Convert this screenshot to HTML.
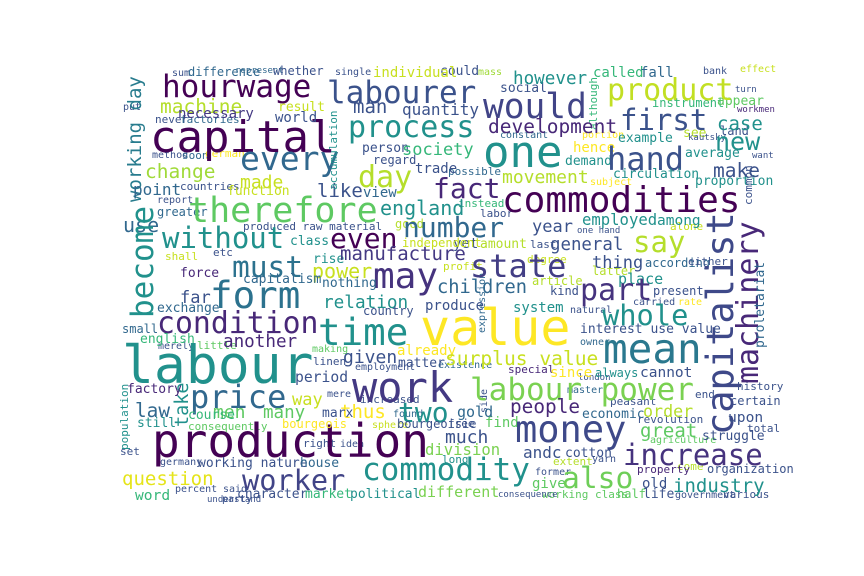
<!DOCTYPE html>
<html><head><meta charset="utf-8"><style>
html,body{margin:0;padding:0;background:#fff;}
svg{display:block;}
text{font-family:"DejaVu Sans Mono","Liberation Mono",monospace;}
</style></head><body>
<svg id="chart" width="864" height="576" viewBox="0 0 864 576" xmlns="http://www.w3.org/2000/svg">
<rect x="0" y="0" width="864" height="576" fill="#ffffff"/>
<g id="words"></g>
</svg>
<script>
const words = ["capital","hourwage","labourer","working day","machine","every","change","made","point","therefore","without","even","must","process","day","england","become","manufacture","power","may","individual","man","quantity","necessary","world","result","society","trade","fact","like","view","accumulation","difference",
"would","product","first","case","development","however","one","hand","new","make","movement","circulation","commodities","number","year","employed","among","general","say","state","thing","capitalist","machinery","proletariat",
"form","condition","time","labour","work","another","given","period","price","take","law","men","many","way","thus","two","production","worker","question","word","commodity","character","market","political","working nature","house","population","factory","relation","exchange","far","small","english","country","nothing","capitalism","still","course","bourgeois","marx","bourgeoisie",
"value","children","part","whole","system","produce","mean","surplus value","interest use value","since","always","cannot","labour power","people","gold","order","economic","upon","money","much","great","struggle","division","andc","cotton","increase","also","industry","different"];
const sizes = [44,31,31,19,19.5,33,19.5,18,16,35,29,28,29.5,30,30,20,31,19,20,36,14,19,16,14,14,13,17,14,28,19,14,11,12,
34.5,30,29,19,19.5,17.6,44,32,25,19.5,18,13,36,28,17,15.6,14.5,17.4,29,32,17,37,30,13,
37.5,29.8,37.5,53,42,17.6,18,14.7,32,18.5,19.4,18,17.5,17,19,28,46,28.6,19,14.6,31,13,13,13,13,13,11,13,17.7,13,17,12,13,12,13,13,13,13,12,13,12,
50,18.7,30,28.7,14,14,41,19.6,13,14,12,14.5,31,19.4,15,16.7,13,14.6,37,18,19,13,15.6,16,13,29,29.6,19,15];
const colors = ["#440154","#440154","#3b528b","#287c8e","#b5de2b","#31688e","#a0da39","#c8e020","#31688e","#5ec962","#21918c","#440154","#2c728e","#21918c","#b5de2b","#21918c","#21918c","#443983","#c8e020","#46337e","#c8e020","#3b528b","#3b528b","#443983","#3b528b","#c8e020","#35b779","#3b528b","#482878","#3b528b","#31688e","#21918c","#31688e",
"#414487","#c2df23","#3b528b","#21918c","#482878","#21918c","#21918c","#3b528b","#21918c","#3b528b","#b5de2b","#21918c","#440154","#31688e","#3b528b","#21918c","#21918c","#3b528b","#b5de2b","#433e85","#3b528b","#3e4989","#482878","#31688e",
"#2c728e","#482878","#21918c","#21918c","#443983","#482878","#3b528b","#3b528b","#31688e","#21918c","#31688e","#5ec962","#5ec962","#c8e020","#fde725","#21918c","#440154","#414487","#e5e419","#35b779","#21918c","#3b528b","#35b779","#21918c","#3b528b","#31688e","#21918c","#482878","#21918c","#31688e","#3b528b","#31688e","#35b779","#3b528b","#31688e","#31688e","#21918c","#35b779","#fde725","#3b528b","#3b528b",
"#fde725","#31688e","#46337e","#21918c","#21918c","#3b528b","#2a788e","#c8e020","#3b528b","#fde725","#21918c","#3b528b","#7ad151","#482878","#31688e","#b5de2b","#31688e","#3b528b","#3e4989","#3b528b","#5ec962","#3b528b","#7ad151","#3b528b","#3b528b","#46337e","#6ece58","#21918c","#7ad151"];
const layoutX = [150,162,327,141,160,240,145,240,133,188,162,330,232,348,358,380,153,340,312,373,373,353,402,178,275,278,402,415,433,317,363,337,188,
483,607,620,717,488,513,483,607,715,713,502,613,502,403,532,582,657,550,633,470,592,733,758,764,
210,157,318,122,352,223,343,295,190,188,135,213,263,292,340,398,152,242,122,135,362,237,305,350,198,300,128,127,323,157,180,122,140,363,322,243,137,188,282,322,397,
420,437,580,602,513,425,603,445,580,550,595,640,470,510,457,643,582,728,515,445,640,702,425,523,565,623,562,673,418];
const layoutY = [152,97,103,202,113,170,178,188,195,222,248,248,277,137,187,215,318,260,278,288,77,113,115,118,122,111,155,173,198,197,197,190,76,
118,100,130,130,133,84,167,170,150,177,183,178,212,237,232,225,225,250,252,277,268,435,384,348,
308,333,345,383,402,347,363,382,408,427,417,418,418,405,418,422,457,490,485,500,480,498,498,498,467,467,450,393,308,312,303,333,343,315,287,283,427,419,428,417,428,
345,293,300,325,312,310,363,365,333,377,377,377,400,413,417,417,418,422,442,443,437,440,455,458,457,465,488,492,497];

const fillerWords = ["could","mass","called","fall","bank","effect","social","instrument","appear","turn",
"workmen","constant","portion","example","see","land","kautsky","hence","average","want",
"demand","possible","subject","proportion","instead","labor","alone","one hand","yet","amount",
"last","degree","profit","according","either","latter","place","article","kind","present",
"rate","carried","natural","owner","existence","special","london","master","peasant","end",
"history","certain","revolution","total","agriculture","find","free","long","extent","come",
"yarn","organization","property","former","old","life","half","give","working class","government",
"various","consequence","sum","represent","whether","single","put","never","factories","method",
"soon","german","person","regard","countries","function","report","greater","produced raw material","class",
"good","independent","rise","shall","etc","use","force","little","merely","making",
"linen","already","matter","employment","mere","increased","consequently","sphere","found","set",
"germany","right","idea","percent","said","party","understand","although","common","expression",
"side"];
const fillerSizes = [13,10,14,14,10,10,13,12,13,9,
9,10,10,13,13,12,9,14,13,9,
13,11,10,13,11,11,11,9,14,13,
11,11,11,12,11,12,15,12,12,12,
10,10,10,10,10,11,9,10,11,11,
11,12,11,11,10,14,11,11,11,11,
10,12,11,10,14,13,12,14,11,10,
11,9,10,9,12,10,10,11,11,10,
11,11,13,12,11,13,10,12,11,13,
12,12,13,11,11,20,13,11,10,10,
11,14,13,10,10,11,11,10,10,11,
10,11,10,10,10,10,9,11,11,10,
10];
const fillerColors = ["#3b528b","#a0da39","#35b779","#31688e","#3b528b","#c8e020","#3b528b","#35b779","#5ec962","#3b528b",
"#482878","#31688e","#fde725","#21918c","#b5de2b","#3b528b","#3b528b","#fde725","#21918c","#3b528b",
"#21918c","#31688e","#fde725","#21918c","#35b779","#3b528b","#c8e020","#3b528b","#3b528b","#b5de2b",
"#3b528b","#c8e020","#c8e020","#31688e","#3b528b","#b5de2b","#21918c","#b5de2b","#3b528b","#3b528b",
"#fde725","#3b528b","#3b528b","#31688e","#31688e","#482878","#3b528b","#31688e","#3b528b","#3b528b",
"#3b528b","#3b528b","#3b528b","#3b528b","#5ec962","#5ec962","#3b528b","#21918c","#b5de2b","#b5de2b",
"#3b528b","#3b528b","#482878","#3b528b","#3b528b","#3b528b","#5ec962","#5ec962","#5ec962","#3b528b",
"#3b528b","#3b528b","#3b528b","#31688e","#3b528b","#3b528b","#3b528b","#3b528b","#31688e","#3b528b",
"#31688e","#fde725","#3b528b","#3b528b","#3b528b","#c8e020","#3b528b","#31688e","#3b528b","#21918c",
"#b5de2b","#c8e020","#21918c","#c8e020","#3b528b","#31688e","#482878","#5ec962","#3b528b","#5ec962",
"#3b528b","#fde725","#3b528b","#3b528b","#3b528b","#3b528b","#5ec962","#c8e020","#31688e","#3b528b",
"#3b528b","#3b528b","#3b528b","#3b528b","#3b528b","#3b528b","#3b528b","#35b779","#3b528b","#31688e",
"#3b528b"];
const fillerX = [440,478,593,640,703,740,500,652,717,735,
737,500,582,618,683,720,688,573,685,752,
565,448,590,695,458,480,670,577,453,480,
530,527,443,645,688,592,618,532,550,653,
678,633,570,580,438,508,578,567,610,695,
737,730,637,747,650,485,448,442,553,677,
592,707,637,535,642,643,617,532,542,675,
723,498,172,235,273,335,123,155,180,152,
182,205,362,373,180,227,157,157,243,290,
395,402,313,165,213,123,180,197,158,312,
313,397,398,355,327,360,188,372,393,120,
160,303,340,175,223,222,207,597,752,485,
487];
const fillerY = [75,75,77,77,74,72,92,107,105,92,
112,138,138,142,137,135,140,152,157,158,
165,175,185,185,207,217,230,233,248,248,
248,263,270,267,265,275,284,285,295,295,
305,305,313,345,368,373,380,393,405,398,
390,405,423,432,443,427,427,463,465,470,
462,473,473,475,488,498,498,488,498,498,
498,497,76,73,75,75,110,123,123,158,
159,157,152,164,190,195,203,216,230,245,
228,247,263,260,256,232,277,349,349,352,
365,355,367,370,397,403,430,428,417,455,
465,447,447,492,492,502,502,130,205,333,
413];

const rotated = new Set(["working day","become","take","accumulation","capitalist","machinery","proletariat","population","although","common","expression","side"]);
const g = document.getElementById('words');
const NS = "http://www.w3.org/2000/svg";
function drawWord(w, s, c, x, y) {
  const t = document.createElementNS(NS, 'text');
  
  
  t.setAttribute('x', x);
  t.setAttribute('y', y);
  t.setAttribute('font-size', s);
  t.setAttribute('fill', c);
  if (rotated.has(w)) t.setAttribute('transform', 'rotate(-90 ' + x + ' ' + y + ')');
  t.textContent = w;
  g.appendChild(t);
}
for (let i = 0; i < fillerWords.length; i++) {
  drawWord(fillerWords[i], fillerSizes[i], fillerColors[i], fillerX[i], fillerY[i]);
}
for (let i = 0; i < words.length; i++) {
  drawWord(words[i], sizes[i], colors[i], layoutX[i], layoutY[i]);
}
</script>
</body></html>
